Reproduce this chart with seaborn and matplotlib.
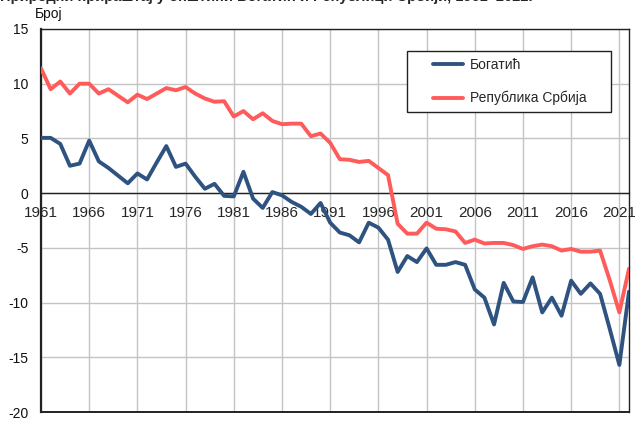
import numpy as np
import pandas as pd
import matplotlib
matplotlib.use("Agg")
import matplotlib.pyplot as plt
from matplotlib.lines import Line2D
from matplotlib.legend_handler import HandlerLine2D
import seaborn as sns

years = list(range(1961, 2023))
bogatic = [5.05, 5.05, 4.5, 2.5, 2.7, 4.8, 2.9, 2.3, 1.6, 0.9,
           1.8, 1.25, 2.8, 4.3, 2.4, 2.7, 1.5, 0.4, 0.85, -0.25,
           -0.3, 1.95, -0.5, -1.35, 0.1, -0.2, -0.8, -1.25, -1.9, -0.9,
           -2.7, -3.6, -3.85, -4.5, -2.7, -3.15, -4.25, -7.2, -5.75, -6.3,
           -5.05, -6.55, -6.55, -6.3, -6.55, -8.8, -9.55, -12.0, -8.2, -9.9,
           -9.95, -7.7, -10.9, -9.55, -11.2, -8.0, -9.2, -8.25, -9.2, -12.4,
           -15.7, -9.0]
srbija = [11.4, 9.5, 10.2, 9.1, 10.0, 10.0, 9.1, 9.5, 8.9, 8.3,
          9.0, 8.6, 9.1, 9.6, 9.4, 9.7, 9.1, 8.65, 8.35, 8.4,
          7.0, 7.5, 6.75, 7.3, 6.6, 6.3, 6.35, 6.35, 5.2, 5.45,
          4.6, 3.1, 3.05, 2.85, 2.95, 2.3, 1.65, -2.8, -3.7, -3.7,
          -2.7, -3.25, -3.3, -3.5, -4.55, -4.25, -4.6, -4.55, -4.55, -4.75,
          -5.1, -4.85, -4.7, -4.85, -5.25, -5.1, -5.35, -5.35, -5.25, -7.95,
          -10.9, -6.9]
series_names = ["Богатић", "Република Србија"]
colors = ["#2F5380", "#FF5B5B"]
xtick_years = list(range(1961, 2022, 5))
yticks = [-20, -15, -10, -5, 0, 5, 10, 15]

df = pd.DataFrame({
    "year": years * 2,
    "value": bogatic + srbija,
    "series": [series_names[0]] * len(years) + [series_names[1]] * len(years),
})

sns.set_theme(style="white")
plt.rcParams["font.family"] = ["Liberation Sans", "DejaVu Sans"]

fig = plt.figure(figsize=(6.35, 4.3), dpi=100)
ax = fig.add_axes([41 / 635, 18 / 430, 588 / 635, 383 / 430])

sns.lineplot(data=df, x="year", y="value", hue="series", palette=colors,
             linewidth=2.8, ax=ax, legend=True, zorder=3)

ax.set_xlim(1961, 2022)
ax.set_ylim(-20, 15)
ax.set_xticks(xtick_years)
ax.set_xticklabels([str(y) for y in xtick_years], fontsize=10, color="#111111")
ax.set_yticks(yticks)
ax.set_yticklabels([str(v) for v in yticks], fontsize=10, color="#111111")
ax.set_xlabel("")
ax.set_ylabel("")

ax.grid(True, color="#c4c4c4", linewidth=1.0, zorder=0)
ax.set_axisbelow(True)

ax.spines["bottom"].set_position(("data", 0))
for s in ["left", "bottom", "top", "right"]:
    ax.spines[s].set_visible(True)
    ax.spines[s].set_color("#222222")
    ax.spines[s].set_linewidth(1.0)
ax.spines["left"].set_linewidth(1.6)
ax.axhline(-20, color="#222222", linewidth=1.4, zorder=4, clip_on=False)
ax.tick_params(axis="both", length=0, pad=9)


class ShiftedLine(HandlerLine2D):
    def get_xdata(self, legend, xdescent, ydescent, width, height, fontsize):
        xd, xm = super().get_xdata(legend, xdescent, ydescent, width, height, fontsize)
        xd = np.array([-xdescent + width * (19 / 49), -xdescent + width])
        return xd, xm


handles, labels = ax.get_legend_handles_labels()
old = ax.get_legend()
if old is not None:
    old.remove()
x0 = (407 - 41) / 588
w = 204 / 588
y1 = (412 - 51) / 383
y0 = (412 - 112) / 383
leg = ax.legend(handles, labels, loc="upper left",
                bbox_to_anchor=(x0, y0, w, y1 - y0), mode="expand",
                frameon=True, fancybox=False, edgecolor="#222222", fontsize=10,
                handlelength=3.53, labelspacing=1.37, borderpad=0.5,
                handletextpad=0.5, borderaxespad=0,
                handler_map={Line2D: ShiftedLine()})
leg.get_frame().set_linewidth(1.0)
leg.get_frame().set_facecolor("white")
leg.get_frame().set_alpha(1.0)
for line in leg.get_lines():
    line.set_linewidth(2.8)

fig.text(35 / 635, 1 - 18 / 430, "Број", fontsize=10, color="#111111",
         ha="left", va="baseline")
fig.text(0.0, 1 - 1.5 / 430,
         "Природни прираштај у општини Богатић и Републици Србији, 1961–2022.",
         fontsize=10.5, fontweight="bold", ha="left", va="baseline")

fig.savefig("out.png", dpi=100)
